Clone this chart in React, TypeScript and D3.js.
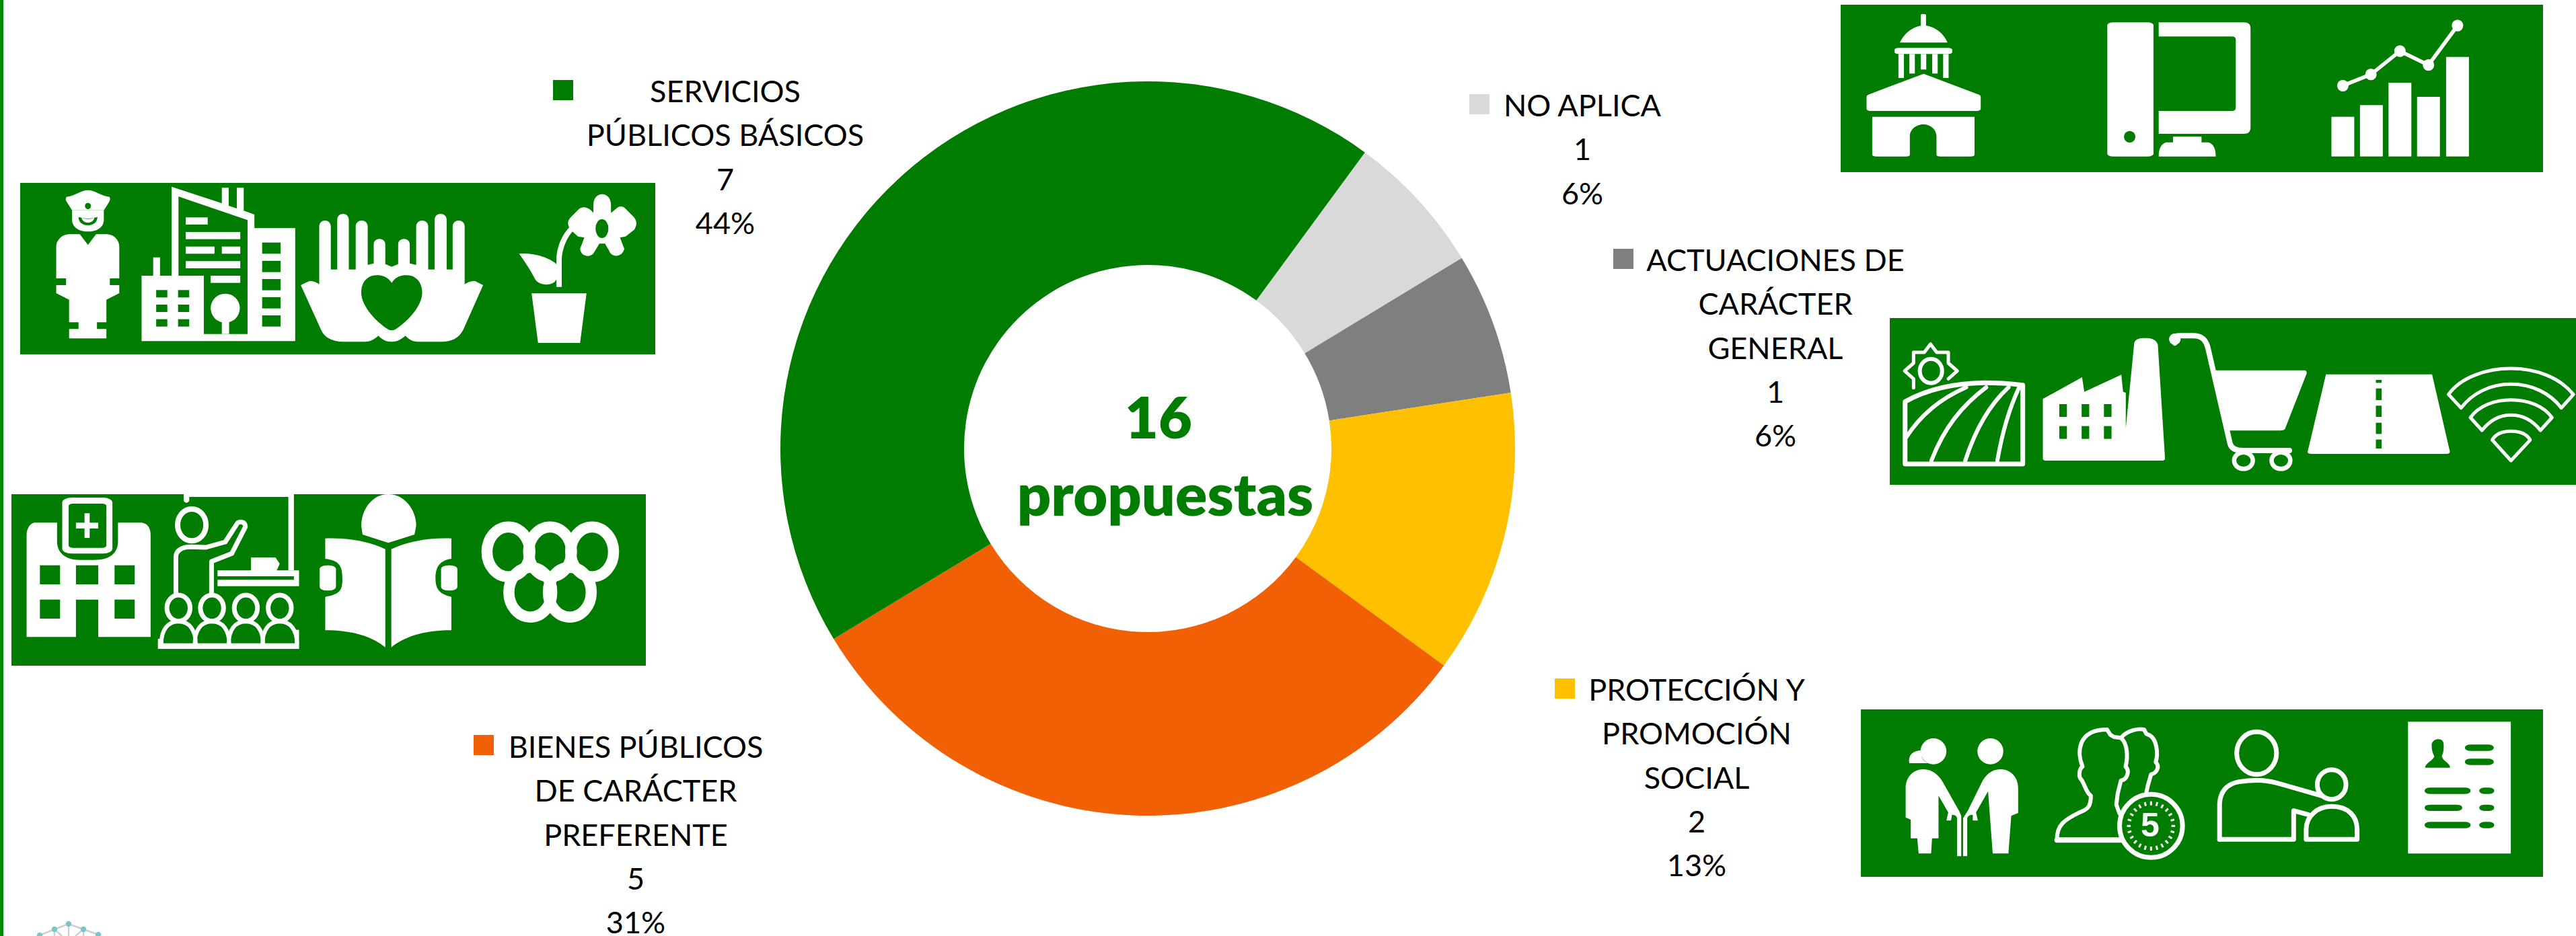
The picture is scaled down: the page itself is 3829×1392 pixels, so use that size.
import React from "react";
import * as d3 from "d3";

// ---- data ----
const categories = ["NO APLICA", "ACTUACIONES DE CARÁCTER GENERAL", "PROTECCIÓN Y PROMOCIÓN SOCIAL", "BIENES PÚBLICOS DE CARÁCTER PREFERENTE", "SERVICIOS PÚBLICOS BÁSICOS"];
const values = [1, 1, 2, 5, 7];
const colors = ["#D9D9D9", "#7F7F7F", "#FFC000", "#F26006", "#007C00"];
const labelLines = [
  ["NO APLICA"],
  ["ACTUACIONES DE", "CARÁCTER", "GENERAL"],
  ["PROTECCIÓN Y", "PROMOCIÓN", "SOCIAL"],
  ["BIENES PÚBLICOS", "DE CARÁCTER", "PREFERENTE"],
  ["SERVICIOS", "PÚBLICOS BÁSICOS"],
];
const labelCentreX = [2352, 2639, 2522, 945, 1078];
const labelFirstBaseline = [173, 403, 1042, 1127, 152];
const swatchPos = [[2184, 140], [2398, 370], [2311, 1009], [704, 1093], [822, 119]];
const centreLines = ["16", "propuestas"];

const W = 3829, H = 1392;
const cx = 1706, cy = 667, R = 546, r0 = 273;
const GREEN = "#007C00";
const FONT = "Lato, 'Open Sans', sans-serif";
const FS = 45, LH = 65.3;

// ---- helpers for pictograms ----
const st = (w: number): any => ({ fill: "none", stroke: "#fff", strokeWidth: w, vectorEffect: "non-scaling-stroke", strokeLinejoin: "round", strokeLinecap: "round" });
const Z = ({ ox, oy, sx, sy, children }: any) => <g transform={`translate(${ox},${oy}) scale(${1 / sx},${1 / sy})`} fill="#fff">{children}</g>;
const GR = ({ x, y, w, h, rx = 0 }: any) => <rect x={x} y={y} width={w} height={h} rx={rx} ry={rx} fill={GREEN} />;
const WR = ({ x, y, w, h, rx = 0 }: any) => <rect x={x} y={y} width={w} height={h} rx={rx} ry={rx} fill="#fff" />;

const Panel1 = () => (
  <Z ox={0} oy={230} sx={1.568} sy={3}>
    {/* police officer */}
    <path d="M205,158 C225,160 235,185 255,188 C258,195 256,205 254,212 L242,248 L168,248 L156,212 C153,205 152,195 155,188 C175,185 185,160 205,158 Z" />
    <ellipse cx={205} cy={229} rx={7} ry={14} fill={GREEN} />
    <path d="M168,248 L168,290 C168,325 185,343 205,343 C225,343 242,325 242,290 L242,248 Z" />
    <path d="M183,278 Q205,292 227,278 C227,300 218,315 205,315 C192,315 183,300 183,278 Z" fill={GREEN} />
    <path d="M190,282 Q205,292 220,282 C218,296 213,303 205,303 C197,303 192,296 190,282 Z" fill="#fff" />
    <path d="M160,355 L186,355 L205,403 L224,355 L250,355 C268,358 278,385 278,410 L278,552 L256,552 L256,582 L278,582 L278,618 L248,647 L248,748 L226,748 L226,778 L248,778 L248,820 L161,820 L161,778 L183,778 L183,748 L161,748 L161,647 L131,618 L131,582 L154,582 L154,552 L131,552 L131,410 C131,385 142,358 160,355 Z" />
    {/* city */}
    <path d="M400,143 L517,217 L517,148 L533,148 L533,228 L552,240 L552,148 L568,148 L568,250 L593,267 L593,328 L688,328 L688,832 L330,832 L330,540 L357,540 L357,458 L373,458 L373,540 L400,540 Z" />
    <path d="M416,187 L577,292 L577,800 L475,800 L475,540 L416,540 Z" fill={GREEN} />
    <WR x={433} y={280} w={51} h={32} /><WR x={433} y={345} w={127} h={32} /><WR x={433} y={410} w={67} h={32} />
    <WR x={517} y={410} w={43} h={32} /><WR x={433} y={475} w={127} h={32} /><WR x={491} y={540} w={69} h={32} />
    <ellipse cx={525} cy={685} rx={34} ry={65} /><WR x={517} y={745} w={17} h={55} />
    {[604, 669, 734].map((y) => [364, 415].map((x) => <GR key={`${x}${y}`} x={x} y={y} w={26} h={33} />))}
    {[392, 474, 555, 636, 717].map((y) => <GR key={y} x={611} y={y} w={43} h={50} />)}
    {/* hands with heart */}
    <path d="M701,582 L720,565 C730,562 738,570 744,578 L744,320 C744,285 771,285 771,320 L771,512 L786,512 L786,290 C786,255 813,255 813,290 L813,512 L829,512 L829,320 C829,285 857,285 857,320 L857,492 L871,485 L871,400 C871,368 898,368 898,400 L898,488 L913,500 L928,488 L928,400 C928,368 955,368 955,400 L955,485 L970,492 L970,320 C970,285 998,285 998,320 L998,512 L1013,512 L1013,290 C1013,255 1041,255 1041,290 L1041,512 L1055,512 L1055,320 C1055,285 1083,285 1083,320 L1083,578 C1090,570 1098,562 1108,565 L1126,582 L1080,780 C1070,820 1050,835 1030,835 L975,835 C960,835 950,820 945,808 C935,825 925,835 913,835 C900,835 890,825 882,808 C875,820 865,835 850,835 L800,835 C775,835 755,815 748,780 Z" />
    <path d="M913,572 C900,535 880,535 868,540 C850,550 842,580 842,615 C842,680 880,750 905,780 Q913,788 921,780 C946,750 984,680 984,615 C984,580 975,550 958,540 C945,535 925,535 913,572 Z" fill={GREEN} />
    {/* flower pot */}
    <polygon points="1239,619 1367,619 1352,840 1254,840" />
    <path d="M1303,590 L1303,470 C1303,420 1315,360 1335,325" style={{ ...st(8), strokeLinecap: "butt" }} />
    <path d="M1210,442 C1250,435 1290,470 1297,490 L1297,555 C1290,590 1255,585 1247,555 C1235,510 1220,470 1210,442 Z" />
    <path d="M1383,225 C1383,160 1424,160 1424,225 L1424,260 L1440,235 C1450,225 1455,235 1460,245 L1478,280 C1485,300 1485,315 1478,335 L1458,365 L1445,370 L1455,420 C1450,460 1425,460 1420,430 L1410,397 L1397,397 L1385,435 C1378,460 1355,460 1352,420 L1362,370 L1347,365 L1330,335 C1322,315 1322,295 1330,280 L1348,245 C1355,230 1370,228 1383,260 Z" />
    <ellipse cx={1403} cy={330} rx={15} ry={42} fill={GREEN} />
  </Z>
);

const studentXs = [416, 494, 573, 652];
const Panel2 = () => (
  <Z ox={0} oy={720} sx={1.568} sy={3}>
    {/* hospital */}
    <path d="M80,172 L133,172 L133,255 C133,310 155,338 185,338 L220,338 C255,338 275,310 275,255 L275,172 L330,172 C345,175 351,200 351,225 L351,682 L229,682 L229,515 L177,515 L177,682 L62,682 L62,225 C62,200 70,175 80,172 Z" />
    <GR x={93} y={362} w={47} h={85} /><GR x={177} y={362} w={52} h={85} /><GR x={267} y={362} w={47} h={85} />
    <GR x={93} y={515} w={47} h={85} /><GR x={267} y={515} w={47} h={85} />
    <WR x={145} y={60} w={117} h={250} rx={22} /><GR x={160} y={87} w={88} h={197} rx={10} />
    <WR x={197} y={130} w={12} h={110} /><WR x={177} y={172} w={52} h={26} />
    {/* teacher */}
    <path d="M428,45 L685,45 L685,385 L672,385 L672,57 L441,57 L441,75 Q435,92 428,75 Z" />
    <path d="M507,385 L585,385 L585,327 L642,327 L652,355 L645,385 L697,385 L697,455 L507,455 L507,427 L685,427 L685,411 L507,411 Z" />
    <ellipse cx={447} cy={182} rx={33} ry={71} style={st(8)} />
    <path d="M410,490 L410,325 C410,295 425,280 445,280 L480,282 L525,258 L553,175 C556,165 572,165 572,190 L540,310 L493,345 L493,490" style={st(7)} />
    {studentXs.map((x) => (
      <g key={x}>
        <ellipse cx={x} cy={553} rx={27} ry={58} style={st(7)} />
        <path d={`M${x - 40},712 C${x - 40},650 ${x - 25},613 ${x},613 C${x + 25},613 ${x + 40},650 ${x + 40},712`} style={st(6)} />
      </g>
    ))}
    <WR x={368} y={710} w={329} h={25} />
    <WR x={368} y={690} w={10} h={25} /><WR x={688} y={650} w={9} h={65} />
    {/* reader */}
    <path d="M905,45 C945,45 970,120 970,185 L966,225 L905,262 L845,225 L842,185 C842,120 865,45 905,45 Z" />
    <path d="M758,242 C810,238 860,255 898,290 L898,728 C860,670 810,652 758,652 L758,503 C795,490 798,470 798,420 C798,365 790,340 758,333 Z" />
    <path d="M912,290 C950,255 1000,238 1052,242 L1052,333 C1025,340 1015,370 1015,420 C1015,470 1025,490 1052,503 L1052,652 C1000,652 950,670 912,728 Z" />
    <WR x={745} y={362} w={38} h={113} rx={17} /><WR x={1028} y={362} w={38} h={113} rx={17} />
    {/* rings */}
    {[[1185, 302], [1282, 302], [1380, 302], [1236, 482], [1328, 482]].map(([x, y]) => (
      <ellipse key={x} cx={x} cy={y} rx={50} ry={111} style={st(16.5)} />
    ))}
  </Z>
);

const capitolCols = [[144, 348], [167, 328], [191, 310], [215, 328], [238, 348]];
const chartBars = [[1054, 521], [1114, 469], [1174, 369], [1234, 432], [1295, 254]];
const Panel3 = () => (
  <Z ox={2720} oy={0} sx={1.4139} sy={3}>
    <WR x={191} y={62} w={11} h={55} rx={5} />
    <path d="M147,190 C155,150 175,115 197,113 C220,115 240,150 247,190 Z" />
    <WR x={136} y={214} w={121} h={27} rx={8} />
    {capitolCols.map(([x, b]) => <WR key={x} x={x} y={241} w={11.5} h={b - 241} />)}
    <path d="M197,329 L313,422 Q317,425 317,432 L317,485 Q317,495 305,495 L88,495 Q77,495 77,485 L77,432 Q77,425 81,422 Z" />
    <path d="M89,521 L304,521 L304,690 Q304,698 295,698 L232,698 Q224,698 224,690 L224,610 C224,575 210,555 197,555 C182,555 168,575 168,610 L168,690 Q168,698 160,698 L98,698 Q89,698 89,690 Z" />
    <WR x={583} y={100} w={97} h={598} rx={12} />
    <ellipse cx={630} cy={610} rx={12} ry={26} fill={GREEN} />
    <path d="M691,100 L870,100 Q884,100 884,125 L884,570 Q884,597 870,597 L691,597 L691,495 L845,495 Q853,495 853,480 L853,178 Q853,163 845,163 L691,163 Z" />
    <path d="M721,610 L781,610 L781,635 L795,635 C805,640 811,660 811,698 L691,698 C691,660 697,640 707,635 L721,635 Z" />
    {chartBars.map(([x, y]) => <WR key={x} x={x} y={y} w={48} h={698 - y} />)}
    <path d="M1078,382 L1137,332 L1198,228 L1258,290 L1319,114" style={st(5.5)} />
    {[[1078, 382], [1137, 332], [1198, 228], [1258, 290], [1319, 114]].map(([x, y]) => <ellipse key={x} cx={x} cy={y} rx={12} ry={26} />)}
  </Z>
);

const Panel4 = () => (
  <Z ox={2790} oy={460} sx={1.509} sy={3}>
    {/* field and sun */}
    <path d="M63,412 C110,360 170,330 240,328 C270,328 300,332 327,338 L327,690 L63,690 Z" style={st(7)} />
    <path d="M66,570 C95,480 140,400 200,348 M122,675 C150,530 190,430 245,348 M198,675 C220,540 250,430 295,348 M270,675 C280,560 295,450 318,352" style={st(6)} />
    <path d="M160,310 L180,275 L160,240 L160,192 L134,192 L120,155 L106,192 L82,192 L82,240 L62,275 L82,310 L82,350" style={st(5)} />
    <ellipse cx={121} cy={275} rx={25} ry={54} style={st(6)} />
    {/* factory */}
    <path d="M372,400 L460,303 L465,368 L548,292 L552,368 L558,372 L558,530 L577,150 C580,130 590,128 602,128 C615,128 628,135 630,160 L646,665 Q646,675 638,675 L380,675 Q372,675 372,665 Z" />
    {[409, 459, 509].map((x) => [423, 521].map((y) => <GR key={`${x}${y}`} x={x} y={y} w={17} h={57} />))}
    {/* cart */}
    <path d="M758,272 L958,272 Q964,272 964,285 L915,535 Q912,541 905,541 L790,541 Z" />
    <path d="M668,150 C660,135 662,118 680,118 L710,118 C730,118 738,140 742,170 L792,600 C795,620 805,630 820,630 L925,630" style={st(8)} />
    <ellipse cx={668} cy={133} rx={13} ry={25} />
    <ellipse cx={822} cy={675} rx={21} ry={37} style={st(6.5)} />
    <ellipse cx={906} cy={675} rx={21} ry={37} style={st(6.5)} />
    {/* road */}
    <path d="M1007,290 L1245,290 L1285,635 Q1285,645 1275,645 L975,645 Q965,645 966,635 Z" />
    {[[315, 13], [353, 52], [430, 50], [506, 50], [581, 40]].map(([y, h]) => <GR key={y} x={1119} y={y} w={13} h={h} />)}
    {/* wifi */}
    <path d="M1282,380 C1310,300 1370,264 1422,264 C1475,264 1530,300 1562,380 L1535,440 C1510,375 1470,334 1422,334 C1375,334 1335,375 1310,440 Z" style={st(5)} />
    <path d="M1331,483 C1350,430 1385,404 1422,404 C1460,404 1495,430 1514,483 L1488,540 C1470,495 1450,472 1422,472 C1395,472 1375,495 1357,540 Z" style={st(5)} />
    <path d="M1380,583 C1388,555 1405,544 1422,544 C1440,544 1457,555 1465,583 L1422,675 Z" style={st(5)} />
  </Z>
);

const clockTicks = d3.range(24);
const Panel5 = () => (
  <g>
    <Z ox={2750} oy={1040} sx={1.453} sy={3}>
      {/* couple */}
      <ellipse cx={180} cy={232} rx={28} ry={58} />
      <path d="M128,285 C125,250 135,228 155,228 C150,260 160,280 170,285 Z" />
      <path d="M120,395 C120,345 138,312 158,312 C178,312 192,340 200,368 L236,500 L240,520 L240,700 L231,700 L231,530 Q230,515 220,515 L218,541 L208,541 L212,505 L191,430 L191,620 L177,620 L175,688 L148,688 L145,620 L131,620 L131,537 L120,527 Z" />
      <ellipse cx={303} cy={232} rx={28} ry={58} />
      <path d="M363,395 C363,345 345,312 325,312 C305,312 292,340 285,368 L254,498 L244,530 L244,700 L253,700 L253,530 Q255,515 265,515 L265,541 L276,541 L272,505 L298,410 L308,688 L342,688 L348,520 L363,507 Z" />
      {/* two profiles + clock */}
      <path d="M447,630 C445,560 465,535 495,505 C515,490 520,475 520,430 L515,420 C508,400 505,375 500,360 C492,345 495,310 502,300 C490,240 490,135 555,135 L562,158 L570,168 L585,172 C600,135 625,130 635,135 L640,155 C665,165 665,250 660,280 C670,300 662,330 650,335 L643,385 L640,415" style={st(6)} />
      <path d="M585,172 C600,200 600,260 595,300 C605,320 598,360 585,362 L578,420 L575,470 L582,510" style={st(6)} />
      <path d="M447,628 L585,628" style={st(8)} />
      <ellipse cx={650} cy={565} rx={68} ry={141} style={st(7)} />
      {clockTicks.map((i) => {
        const a = (i / 24) * 2 * Math.PI;
        const c = Math.cos(a), s = Math.sin(a);
        return <path key={i} d={`M${650 + 44 * s},${565 - 92 * c} L${650 + 52 * s},${565 - 110 * c}`} style={{ ...st(3), strokeLinecap: "butt" }} />;
      })}
      {/* carer and child */}
      <ellipse cx={878} cy={240} rx={43} ry={95} style={st(7)} />
      <path d="M798,625 L798,465 C800,400 820,375 840,368 C880,355 905,362 930,378 L1018,430" style={st(7)} />
      <path d="M798,625 L958,625 L958,497 L990,515" style={st(7)} />
      <ellipse cx={1040} cy={380} rx={31} ry={66} style={st(7)} />
      <path d="M985,625 L985,580 C985,520 1010,478 1040,478 C1075,478 1095,520 1095,580 L1095,625 Z" style={st(7)} />
      {/* ID card */}
      <WR x={1205} y={100} w={222} h={588} />
      <path d="M1270,178 C1280,178 1283,190 1282,215 C1282,240 1278,250 1278,255 C1280,275 1296,285 1296,305 L1242,305 C1242,285 1258,275 1262,255 C1258,240 1256,225 1256,205 C1256,190 1262,178 1270,178 Z" fill={GREEN} />
      {[[1328, 202, 62], [1328, 265, 62], [1241, 394, 99], [1359, 394, 32], [1241, 470, 81], [1359, 470, 32], [1241, 547, 99], [1359, 547, 32]].map(([x, y, w]) => (
        <GR key={`${x}${y}`} x={x} y={y} w={w} h={28} rx={12} />
      ))}
    </Z>
    <text x={2750 + 648 / 1.453} y={1040 + 613 / 3} fontFamily="'Liberation Sans', sans-serif" fontWeight={700} fontSize={50} fill="#fff" textAnchor="middle">5</text>
  </g>
);

const logoNodes = [[102, 1374], [81, 1382], [124, 1382], [59, 1391], [146, 1390]];
const Logo = () => (
  <g>
    <path d="M59,1391 L81,1382 L102,1374 L124,1382 L146,1390 M102,1374 L102,1392 M81,1382 L92,1392 M124,1382 L112,1392 M81,1382 L81,1392 M124,1382 L124,1392" fill="none" stroke="#CFCFCF" strokeWidth={2.5} />
    {logoNodes.map(([x, y]) => <circle key={x} cx={x} cy={y} r={4.2} fill="#7FC4C8" />)}
  </g>
);

export default function App() {
  const pie = d3.pie<number>().sort(null).startAngle((36.25 * Math.PI) / 180).endAngle(((36.25 + 360) * Math.PI) / 180);
  const arc = d3.arc<any>().innerRadius(r0).outerRadius(R);
  const arcs = pie(values);
  const total = d3.sum(values);
  return (
    <svg width={W} height={H} viewBox={`0 0 ${W} ${H}`} style={{ position: "absolute", left: 0, top: 0, display: "block", background: "#fff" }}>
      <rect x={0} y={0} width={5} height={H} fill="#008A00" />
      <rect x={30} y={272} width={944} height={255} fill={GREEN} />
      <rect x={17} y={735} width={943} height={255} fill={GREEN} />
      <rect x={2736} y={7} width={1044} height={249} fill={GREEN} />
      <rect x={2809} y={473} width={1020} height={248} fill={GREEN} />
      <rect x={2766} y={1055} width={1014} height={249} fill={GREEN} />
      <Panel1 /><Panel2 /><Panel3 /><Panel4 /><Panel5 />
      <Logo />
      <g transform={`translate(${cx},${cy})`}>
        {arcs.map((a, i) => <path key={categories[i]} d={arc(a) as string} fill={colors[i]} />)}
      </g>
      {categories.map((c, i) => {
        const lines = [...labelLines[i], String(values[i]), `${Math.round((values[i] / total) * 100)}%`];
        return (
          <g key={c}>
            <rect x={swatchPos[i][0]} y={swatchPos[i][1]} width={30} height={30} fill={colors[i]} />
            {lines.map((t, j) => (
              <text key={j} x={labelCentreX[i]} y={labelFirstBaseline[i] + j * LH} textAnchor="middle" fontFamily={FONT} fontSize={FS} fill="#000">{t}</text>
            ))}
          </g>
        );
      })}
      <text x={1722} y={652} textAnchor="middle" fontFamily={FONT} fontWeight={800} fontSize={86} fill={GREEN}>{centreLines[0]}</text>
      <text x={1732} y={767} textAnchor="middle" fontFamily={FONT} fontWeight={800} fontSize={88} fill={GREEN}>{centreLines[1]}</text>
    </svg>
  );
}
